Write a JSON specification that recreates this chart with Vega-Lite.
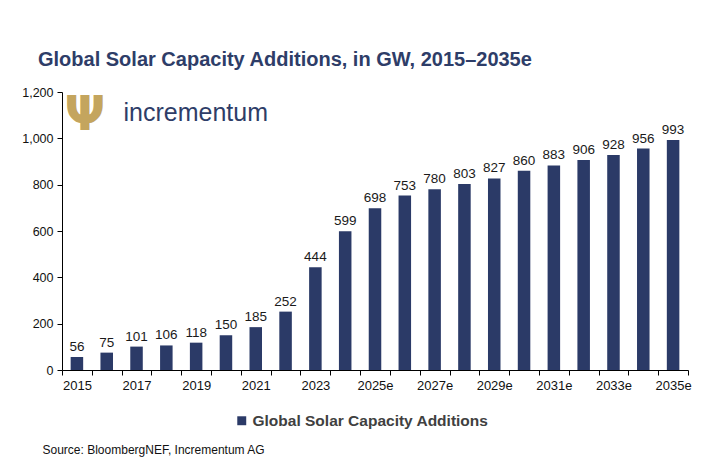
{
  "$schema": "https://vega.github.io/schema/vega-lite/v6.json",
  "width": 626,
  "height": 278,
  "autosize": "none",
  "padding": {"left": 62, "top": 92, "right": 14, "bottom": 97},
  "background": "white",
  "config": {
    "view": {"stroke": null},
    "font": "Liberation Sans"
  },
  "title": {
    "text": "Global Solar Capacity Additions, in GW, 2015–2035e",
    "anchor": "start",
    "frame": "group",
    "dx": -24,
    "offset": 16,
    "fontSize": 20,
    "fontWeight": "bold",
    "color": "#2e3d68",
    "font": "Liberation Sans"
  },
  "datasets": {
    "solar": [
      {"year": "2015", "gw": 56},
      {"year": "2016", "gw": 75},
      {"year": "2017", "gw": 101},
      {"year": "2018", "gw": 106},
      {"year": "2019", "gw": 118},
      {"year": "2020", "gw": 150},
      {"year": "2021", "gw": 185},
      {"year": "2022", "gw": 252},
      {"year": "2023", "gw": 444},
      {"year": "2024", "gw": 599},
      {"year": "2025e", "gw": 698},
      {"year": "2026e", "gw": 753},
      {"year": "2027e", "gw": 780},
      {"year": "2028e", "gw": 803},
      {"year": "2029e", "gw": 827},
      {"year": "2030e", "gw": 860},
      {"year": "2031e", "gw": 883},
      {"year": "2032e", "gw": 906},
      {"year": "2033e", "gw": 928},
      {"year": "2034e", "gw": 956},
      {"year": "2035e", "gw": 993}
    ],
    "logo": [
      {"name": "incrementum", "icon": "Ψ"}
    ]
  },
  "layer": [
    {
      "data": {"name": "solar"},
      "mark": {"type": "bar", "width": {"band": 0.42}},
      "encoding": {
        "x": {
          "field": "year",
          "type": "ordinal",
          "sort": null,
          "scale": {"paddingInner": 0, "paddingOuter": 0},
          "axis": {
            "title": "Source: BloombergNEF, Incrementum AG",
            "titleAnchor": "start",
            "titleAlign": "left",
            "titleX": -20,
            "titleY": 74,
            "titleFontSize": 12,
            "titleFontWeight": "normal",
            "titleColor": "#111111",
            "labelAngle": 0,
            "labelFontSize": 13,
            "labelColor": "#111111",
            "labelPadding": 4,
            "labelOverlap": false,
            "labelExpr": "indexof(['2015','2017','2019','2021','2023','2025e','2027e','2029e','2031e','2033e','2035e'], datum.value) >= 0 ? datum.label : ''",
            "tickBand": "extent",
            "tickSize": 5,
            "tickColor": "#000000",
            "domainColor": "#000000",
            "grid": false
          }
        },
        "y": {
          "field": "gw",
          "type": "quantitative",
          "scale": {"domain": [0, 1200], "nice": false},
          "axis": {
            "title": null,
            "values": [0, 200, 400, 600, 800, 1000, 1200],
            "format": ",d",
            "labelFontSize": 12.5,
            "labelColor": "#111111",
            "labelPadding": 4,
            "tickSize": 5,
            "tickColor": "#000000",
            "domainColor": "#000000",
            "grid": false
          }
        },
        "color": {
          "datum": "Global Solar Capacity Additions",
          "type": "nominal",
          "scale": {"range": ["#2b3a67"]},
          "legend": {
            "title": null,
            "orient": "none",
            "legendX": 172,
            "legendY": 321,
            "symbolType": "square",
            "symbolSize": 80,
            "labelFontSize": 15.5,
            "labelFontWeight": "bold",
            "labelColor": "#404040",
            "labelOffset": 3,
            "labelLimit": 400
          }
        }
      }
    },
    {
      "data": {"name": "solar"},
      "mark": {"type": "text", "dy": -10, "fontSize": 13.5, "color": "#1a1a1a"},
      "encoding": {
        "x": {"field": "year", "type": "ordinal", "sort": null},
        "y": {"field": "gw", "type": "quantitative"},
        "text": {"field": "gw", "type": "quantitative"}
      }
    },
    {
      "data": {"name": "logo"},
      "mark": {"type": "text", "align": "left", "baseline": "middle", "dx": -13, "fontSize": 25, "color": "#2e3d68", "font": "Liberation Sans"},
      "encoding": {
        "x": {"datum": "2017", "type": "ordinal"},
        "y": {"datum": 1110, "type": "quantitative"},
        "text": {"field": "name", "type": "nominal"}
      }
    },
    {
      "data": {"name": "logo"},
      "mark": {"type": "text", "align": "center", "baseline": "middle", "dx": 8, "fontSize": 48, "fontWeight": "bold", "color": "#c4a55e", "font": "DejaVu Sans"},
      "encoding": {
        "x": {"datum": "2015", "type": "ordinal"},
        "y": {"datum": 1095, "type": "quantitative"},
        "text": {"field": "icon", "type": "nominal"}
      }
    }
  ]
}
